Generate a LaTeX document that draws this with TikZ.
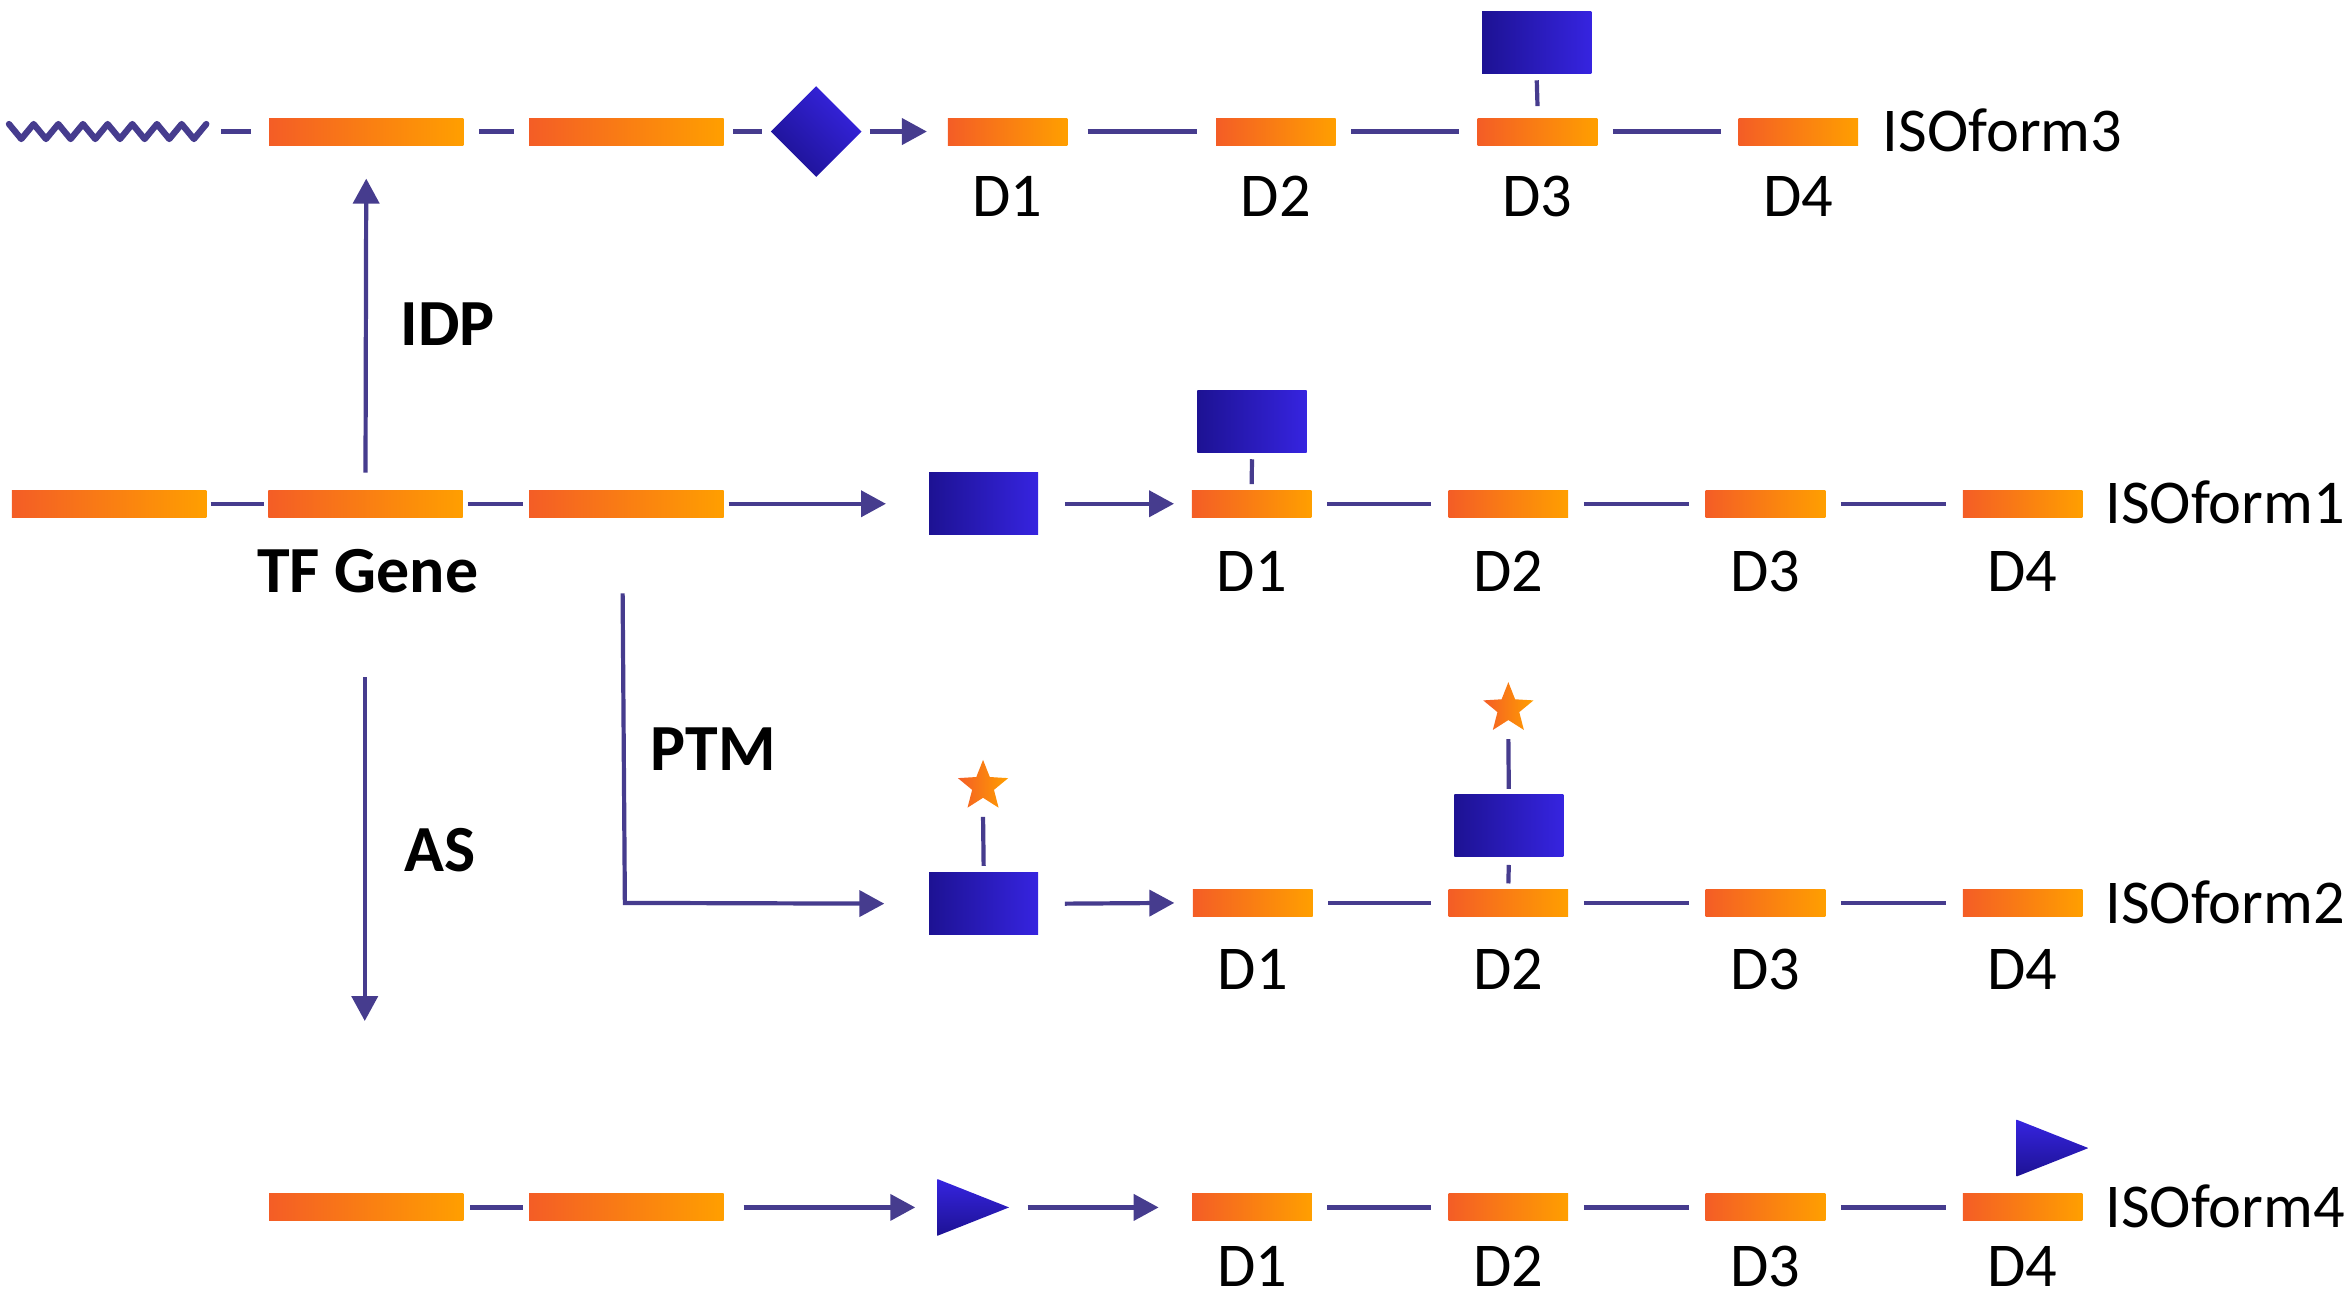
\documentclass[tikz,border=0pt]{standalone}
\usepackage{fontspec}
\setmainfont{Carlito}
\usetikzlibrary{shapes.geometric,arrows.meta,calc}
\definecolor{orL}{HTML}{F45D26}
\definecolor{orR}{HTML}{FF9F00}
\definecolor{bluL}{HTML}{1D1293}
\definecolor{bluR}{HTML}{3624E0}
\definecolor{lnk}{HTML}{463C8E}
\begin{document}
\begin{tikzpicture}[x=0.015cm,y=-0.015cm,
  gbar/.style={rectangle, inner sep=0, minimum width=1.95cm, minimum height=0.271cm, left color=orL, right color=orR},
  dbar/.style={gbar, minimum width=1.2cm},
  pbox/.style={rectangle, inner sep=0, minimum width=1.095cm, minimum height=0.6225cm, left color=bluL, right color=bluR},
  diam/.style={diamond, inner sep=0, minimum width=0.915cm, minimum height=0.915cm, top color=bluR, bottom color=bluL, shading angle=-45},
  tri/.style={rectangle, inner sep=0, minimum width=0.72cm, minimum height=0.57cm,
    path picture={\shade[top color=bluR, bottom color=bluL] (path picture bounding box.north west) -- (path picture bounding box.east) -- (path picture bounding box.south west) -- cycle;}},
  ostar/.style={star, star points=5, star point ratio=2.3, inner sep=0, minimum size=0.53cm, left color=orL, right color=orR},
  link/.style={draw=lnk, line width=1.2pt},
  arr/.style={link, -{Triangle[length=0.25cm,width=0.26cm]}},
  zz/.style={draw=lnk, line width=1.8pt, line join=round, line cap=round},
  dlab/.style={inner sep=0, font=\fontsize{17.8}{20}\selectfont},
  iso/.style={inner sep=0, anchor=base west, font=\fontsize{17.8}{20}\selectfont},
  blab/.style={inner sep=0, font=\fontsize{18.8}{22}\selectfont\bfseries}
]
\useasboundingbox (0,0) rectangle (1568,866);

% ---------- Row A : ISOform3 ----------
\coordinate (wzS) at (6,83);
\coordinate (wzE) at (138,83);
\draw[zz] (wzS) -- (14.25,93) -- (22.5,83) -- (30.75,93) -- (39,83) -- (47.25,93) -- (55.5,83) -- (63.75,93) -- (72,83)
  -- (80.25,93) -- (88.5,83) -- (96.75,93) -- (105,83) -- (113.25,93) -- (121.5,83) -- (129.75,93) -- (wzE);
\node[gbar] (a1) at (245,88) {};
\node[gbar] (a2) at (419,88) {};
\node[diam] (dia) at (546,88) {};
\node[dbar] (ad1) at (674,88) {};
\node[dbar] (ad2) at (853.5,88) {};
\node[dbar] (ad3) at (1028.5,88) {};
\node[dbar] (ad4) at (1203,88) {};
\node[pbox] (abox) at (1028,28.5) {};
\draw[link] ($(138,88)+(10,0)$) -- ($(a1.west)+(-11.5,0)$);
\draw[link] ($(a1.east)+(10,0)$) -- ($(a2.west)+(-10,0)$);
\draw[link] ($(a2.east)+(6,0)$) -- ($(dia.west)+(-5,0)$);
\draw[arr] ($(dia.east)+(5,0)$) -- ($(ad1.west)+(-13.5,0)$);
\draw[link] ($(ad1.east)+(13,0)$) -- ($(ad2.west)+(-12.5,0)$);
\draw[link] ($(ad2.east)+(10,0)$) -- ($(ad3.west)+(-12,0)$);
\draw[link] ($(ad3.east)+(10,0)$) -- ($(ad4.west)+(-11,0)$);
\draw[link] ($(abox.south)+(0,4)$) -- ($(ad3.north)+(0,-7.5)$);
\node[iso] (iso3) at (1259,101.5) {ISOform3};
\node[dlab] (la1) at (674,131.5) {D1};
\node[dlab] (la2) at (853.5,131.5) {D2};
\node[dlab] (la3) at (1028.5,131.5) {D3};
\node[dlab] (la4) at (1203,131.5) {D4};

% ---------- Row B : TF gene / ISOform1 ----------
\node[gbar] (b0) at (73,337) {};
\node[gbar] (b1) at (244.5,337) {};
\node[gbar] (b2) at (419,337) {};
\node[pbox] (bbox) at (658,337) {};
\node[dbar] (bd1) at (837.3,337) {};
\node[dbar] (bd2) at (1009,337) {};
\node[dbar] (bd3) at (1181,337) {};
\node[dbar] (bd4) at (1353,337) {};
\node[pbox] (bboxT) at (837.5,282) {};
\draw[link] ($(b0.east)+(2.5,0)$) -- ($(b1.west)+(-2.5,0)$);
\draw[link] ($(b1.east)+(3,0)$) -- ($(b2.west)+(-4,0)$);
\draw[arr] ($(b2.east)+(3,0)$) -- ($(bbox.west)+(-28.4,0)$);
\draw[arr] ($(bbox.east)+(17.3,0)$) -- ($(bd1.west)+(-11.5,0)$);
\draw[link] ($(bd1.east)+(10,0)$) -- ($(bd2.west)+(-11,0)$);
\draw[link] ($(bd2.east)+(10,0)$) -- ($(bd3.west)+(-11,0)$);
\draw[link] ($(bd3.east)+(10,0)$) -- ($(bd4.west)+(-11,0)$);
\draw[link] ($(bboxT.south)+(0,4)$) -- ($(bd1.north)+(0,-3.6)$);
\node[iso] (iso1) at (1408,350.5) {ISOform1};
\node[blab] (tfg) at (246,382) {TF Gene};
\node[dlab] (lb1) at (837.3,382) {D1};
\node[dlab] (lb2) at (1009,382) {D2};
\node[dlab] (lb3) at (1181,382) {D3};
\node[dlab] (lb4) at (1353,382) {D4};

% IDP
\draw[arr] ($(b1.north)+(0,-11.3)$) -- ($(a1.south)+(0,22)$);
\node[blab] (idp) at (299.5,217) {IDP};

% ---------- Row C : ISOform2 ----------
\node[pbox] (cbox) at (658,604.5) {};
\node[ostar] (cstar1) at (657.6,526) {};
\node[dbar] (cd1) at (838,604) {};
\node[dbar] (cd2) at (1009,604) {};
\node[dbar] (cd3) at (1181,604) {};
\node[dbar] (cd4) at (1353,604) {};
\node[pbox] (cbox2) at (1009.3,552) {};
\node[ostar] (cstar2) at (1009,474) {};
\coordinate (ptmS) at (416.5,397);
\coordinate (ptmC) at (418,604);
\draw[arr] (ptmS) -- (ptmC) -- ($(cbox.west)+(-29.5,0)$);
\draw[arr] ($(cbox.east)+(17.3,0)$) -- ($(cd1.west)+(-12,0)$);
\draw[link] ($(cd1.east)+(10,0)$) -- ($(cd2.west)+(-11,0)$);
\draw[link] ($(cd2.east)+(10,0)$) -- ($(cd3.west)+(-11,0)$);
\draw[link] ($(cd3.east)+(10,0)$) -- ($(cd4.west)+(-11,0)$);
\draw[link] ($(cstar1.center)+(0,20.5)$) -- ($(cbox.north)+(0,-4)$);
\draw[link] ($(cstar2.center)+(0,20.5)$) -- ($(cbox2.north)+(0,-3)$);
\draw[link] ($(cbox2.south)+(0,5.4)$) -- ($(cd2.north)+(0,-3.5)$);
\node[iso] (iso2) at (1408,617.5) {ISOform2};
\node[blab] (ptm) at (477,501) {PTM};
\node[dlab] (lc1) at (838,648.5) {D1};
\node[dlab] (lc2) at (1009,648.5) {D2};
\node[dlab] (lc3) at (1181,648.5) {D3};
\node[dlab] (lc4) at (1353,648.5) {D4};

% AS
\coordinate (asS) at (244,453);
\coordinate (asE) at (244,683);
\draw[arr] (asS) -- (asE);
\node[blab] (as) at (294.5,569) {AS};

% ---------- Row D : ISOform4 ----------
\node[gbar] (dg1) at (245,807.7) {};
\node[gbar] (dg2) at (419,807.7) {};
\node[tri] (tri1) at (651,807.7) {};
\node[dbar] (dd1) at (837.5,807.7) {};
\node[dbar] (dd2) at (1009,807.7) {};
\node[dbar] (dd3) at (1181,807.7) {};
\node[dbar] (dd4) at (1353,807.7) {};
\node[tri] (tri2) at (1373,768) {};
\draw[link] ($(dg1.east)+(4,0)$) -- ($(dg2.west)+(-4,0)$);
\draw[arr] ($(dg2.east)+(13,0)$) -- ($(tri1.west)+(-14.3,0)$);
\draw[arr] ($(tri1.east)+(12,0)$) -- ($(dd1.west)+(-22,0)$);
\draw[link] ($(dd1.east)+(10,0)$) -- ($(dd2.west)+(-11,0)$);
\draw[link] ($(dd2.east)+(10,0)$) -- ($(dd3.west)+(-11,0)$);
\draw[link] ($(dd3.east)+(10,0)$) -- ($(dd4.west)+(-11,0)$);
\node[iso] (iso4) at (1408,821.3) {ISOform4};
\node[dlab] (ld1) at (837.5,847) {D1};
\node[dlab] (ld2) at (1009,847) {D2};
\node[dlab] (ld3) at (1181,847) {D3};
\node[dlab] (ld4) at (1353,847) {D4};
\end{tikzpicture}
\end{document}
